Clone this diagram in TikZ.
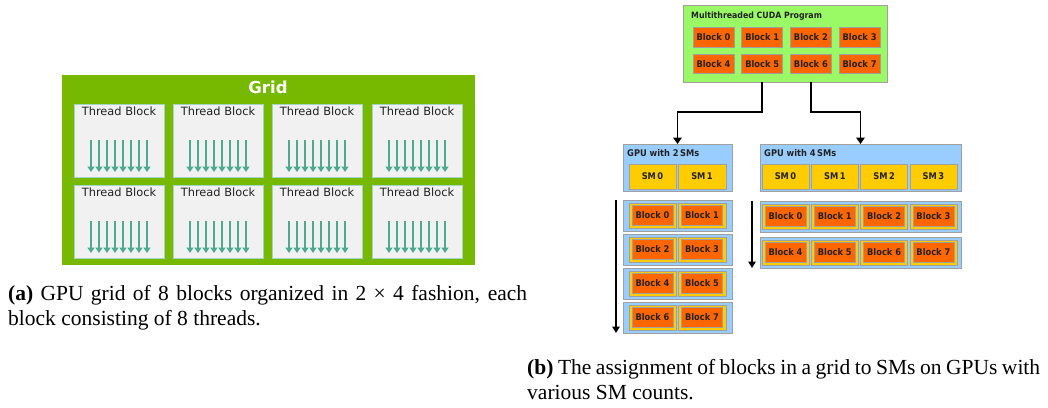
\documentclass[tikz,border=0pt]{standalone}
\usepackage{fontspec}
\setmainfont{Liberation Serif}
\newfontfamily\nvsans{DejaVu Sans}
\newfontfamily\cudasans{DejaVu Sans Condensed}
\usetikzlibrary{arrows.meta,calc}

\definecolor{nvgreen}{HTML}{76B900}
\definecolor{tbfill}{HTML}{F1F1F1}
\definecolor{tbline}{HTML}{A3D4C6}
\definecolor{threadcol}{HTML}{4CAB8E}
\definecolor{progfill}{HTML}{99FA66}
\definecolor{blkfill}{HTML}{FF6600}
\definecolor{boxline}{HTML}{A0A0A0}
\definecolor{gpufill}{HTML}{99CCFF}
\definecolor{smfill}{HTML}{FFCC00}
\definecolor{labelcol}{HTML}{222222}

\tikzset{
  box/.style={anchor=north west, inner sep=0pt, outer sep=0pt},
  gridbg/.style={box, fill=nvgreen},
  tblock/.style={box, fill=tbfill, draw=tbline, line width=0.8pt,
    minimum width=90pt, minimum height=73pt},
  tbtext/.style={anchor=north, inner sep=0pt, text=labelcol,
    font=\nvsans\fontsize{11.4}{13}\selectfont},
  thread/.style={draw=threadcol, line width=1.8pt,
    -{Triangle[width=7pt,length=5.5pt]}},
  progbox/.style={box, fill=progfill, draw=boxline, line width=0.8pt},
  blk/.style={inner sep=0pt, outer sep=0pt, fill=blkfill, draw=boxline,
    line width=0.6pt, minimum width=41pt, minimum height=19.5pt,
    text=labelcol, font=\cudasans\bfseries\fontsize{9.2}{10}\selectfont},
  gpubox/.style={box, fill=gpufill, draw=boxline, line width=0.8pt},
  smcell/.style={box, fill=smfill, draw=boxline, line width=0.6pt,
    minimum height=25pt, text=labelcol,
    font=\cudasans\bfseries\fontsize{9.2}{10}\selectfont},
  cudatitle/.style={anchor=west, inner sep=0pt, text=labelcol,
    font=\cudasans\bfseries\fontsize{9.2}{10}\selectfont},
  conn/.style={draw=black, line width=1.8pt,
    -{Triangle[width=8.5pt,length=6.5pt]}},
  timeline/.style={draw=black, line width=1.5pt,
    -{Triangle[width=7.5pt,length=6.5pt]}},
  caption/.style={anchor=north west, inner sep=0pt, align=left,
    font=\fontsize{21.5}{25}\selectfont},
}

\begin{document}
\begin{tikzpicture}[x=1pt,y=-1pt]
\useasboundingbox (0,0) rectangle (1048,407);

% ---------------- (a) grid of thread blocks ----------------
\node[gridbg, minimum width=413pt, minimum height=190pt] (grid) at (62,75) {};
\node[inner sep=0pt, text=white, font=\nvsans\bfseries\fontsize{16.5}{18}\selectfont]
  (gridtitle) at (268,87) {Grid};

\foreach \r in {0,1} {
  \foreach \c/\x in {0/74,1/173,2/272,3/372} {
    \node[tblock] (tb\r\c) at (\x,{104+81*\r}) {};
    \node[tbtext] (tbt\r\c) at ($(tb\r\c.north)+(0,3)$) {Thread Block};
    \foreach \k in {0,...,7} {
      \draw[thread] ($(tb\r\c.north)+({-28+8*\k},36)$) -- ++(0,32);
    }
  }
}

% ---------------- (b) program and GPUs ----------------
\node[progbox, minimum width=204pt, minimum height=77pt] (prog) at (683,5) {};
\node[cudatitle, font=\cudasans\bfseries\fontsize{8.7}{10}\selectfont]
  (progtitle) at (691,16) {Multithreaded CUDA Program};
\foreach \n in {0,...,7} {
  \pgfmathtruncatemacro{\col}{mod(\n,4)}
  \pgfmathtruncatemacro{\row}{div(\n,4)}
  \node[blk] (pb\n) at ({713.5+48.7*\col},{37.5+26.5*\row}) {Block \n};
}

% GPU with 2 SMs
\node[gpubox, minimum width=109pt, minimum height=47pt] (gpuA) at (623,144) {};
\node[cudatitle] (gpuAtitle) at (627,153.5) {GPU with\ 2\,SMs};
\node[smcell, minimum width=47pt] (smA0) at (629,164) {SM\,0};
\node[smcell, minimum width=48pt] (smA1) at (678,164) {SM\,1};

% GPU with 4 SMs
\node[gpubox, minimum width=201pt, minimum height=47pt] (gpuB) at (760,144) {};
\node[cudatitle] (gpuBtitle) at (764,153.5) {GPU with 4\,SMs};
\foreach \s in {0,...,3} {
  \node[smcell, minimum width=47pt] (smB\s) at ({762+49.3*\s},164) {SM\,\s};
}

% program dispatched to each GPU
\draw[conn] (pb5 |- prog.south) -- (pb5 |- 0,112) -| (gpuA.north);
\draw[conn] (pb6 |- prog.south) -- (pb6 |- 0,112) -| (gpuB.north);

% block waves on the 2-SM GPU
\foreach \i in {0,...,3} {
  \node[gpubox, minimum width=109pt, minimum height=31pt] (rowA\i) at (623,{200+34*\i}) {};
  \foreach \j/\x/\w in {0/629/47,1/678/48} {
    \pgfmathtruncatemacro{\b}{2*\i+\j}
    \node[smcell, minimum width=\w pt] (cA\i\j) at (\x,{203+34*\i}) {};
    \node[blk] (bA\i\j) at (cA\i\j.center) {Block \b};
  }
}
\draw[timeline] ([xshift=-7pt]rowA0.north west) -- ([xshift=-7pt]rowA3.south west);

% block waves on the 4-SM GPU
\foreach \i in {0,1} {
  \node[gpubox, minimum width=201pt, minimum height=31pt] (rowB\i) at (760,{201+36*\i}) {};
  \foreach \j in {0,...,3} {
    \pgfmathtruncatemacro{\b}{4*\i+\j}
    \node[smcell, minimum width=47pt] (cB\i\j) at ({762+49.3*\j},{204+36*\i}) {};
    \node[blk] (bB\i\j) at (cB\i\j.center) {Block \b};
  }
}
\draw[timeline] ([xshift=-8pt]rowB0.north west) -- ([xshift=-8pt]rowB1.south west);

% ---------------- captions ----------------
\node[caption] (capA) at (8,285) {\makebox[519pt][s]{\textbf{(a)} GPU grid of 8 blocks organized in 2 × 4 fashion, each}\\block consisting of 8 threads.};
\node[caption] (capB) at (527,359) {\makebox[513pt][s]{\textbf{(b)} The assignment of blocks in a grid to SMs on GPUs with}\\various SM counts.};
\end{tikzpicture}
\end{document}
